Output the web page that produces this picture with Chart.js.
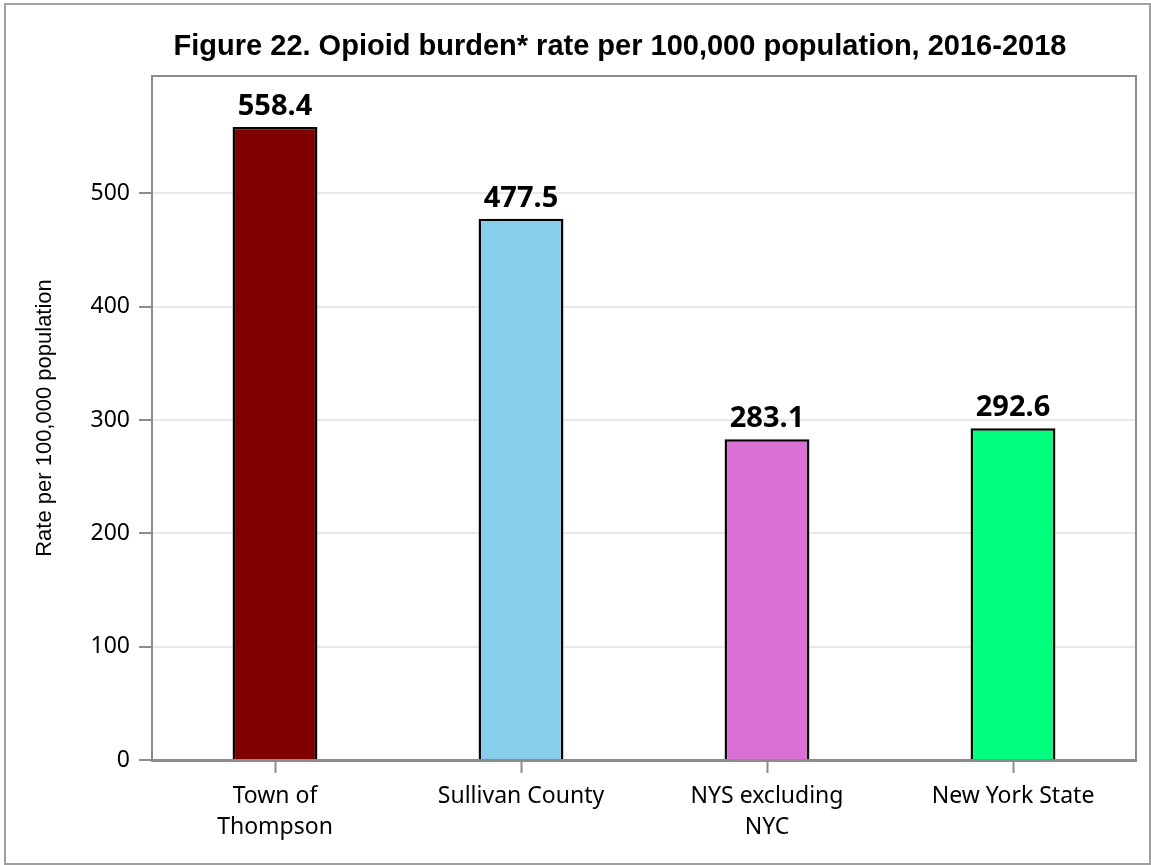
<!DOCTYPE html>
<html lang="en">
  <head>
    <meta charset="UTF-8" />
    <title>Opioid burden</title>
    <script src="https://cdn.jsdelivr.net/npm/chart.js"></script>
    <style>
      body {
        margin: 0;
        background: white;
      }
      canvas {
        display: block;
      }
    </style>
  </head>
  <body>
    <canvas id="opioidChart" width="1151" height="865"></canvas>
    <script>
      const chartTitle = "Figure 22. Opioid burden* rate per 100,000 population, 2016-2018";
      const categories = [["Town of", "Thompson"], "Sullivan County", ["NYS excluding", "NYC"], "New York State"];
      const rates = [558.4, 477.5, 283.1, 292.6];
      const barColors = ["#800000", "#87CEEB", "#DA70D6", "#00FF7F"];
      const yTicks = [0, 100, 200, 300, 400, 500];

      const axisGray = "#8c8c8c";

      // frame, title, top/right plot border
      const decorations = {
        id: "decorations",
        beforeDraw(chart) {
          const ctx = chart.ctx;
          ctx.save();
          ctx.strokeStyle = "#a0a0a0";
          ctx.lineWidth = 2;
          ctx.strokeRect(5, 4, 1145, 860);
          ctx.fillStyle = "#000";
          ctx.font = "bold 29px 'Liberation Sans', Arial, sans-serif";
          ctx.textAlign = "center";
          ctx.textBaseline = "alphabetic";
          ctx.fillText(chartTitle, 620, 55);
          ctx.restore();
        },
        afterDraw(chart) {
          const a = chart.chartArea;
          const ctx = chart.ctx;
          ctx.save();
          ctx.strokeStyle = axisGray;
          ctx.lineWidth = 2;
          ctx.beginPath();
          ctx.moveTo(a.left, a.top);
          ctx.lineTo(a.right, a.top);
          ctx.lineTo(a.right, a.bottom);
          ctx.stroke();
          ctx.restore();
        },
      };

      const valueLabels = {
        id: "valueLabels",
        afterDatasetsDraw(chart) {
          const ctx = chart.ctx;
          const meta = chart.getDatasetMeta(0);
          ctx.save();
          ctx.fillStyle = "#000";
          ctx.font = "bold 29px 'Noto Sans', sans-serif";
          ctx.textAlign = "center";
          ctx.textBaseline = "alphabetic";
          meta.data.forEach((bar, i) => {
            ctx.fillText(rates[i].toFixed(1), bar.x, bar.y - 12);
          });
          ctx.restore();
        },
      };

      new Chart(document.getElementById("opioidChart"), {
        type: "bar",
        data: {
          labels: categories,
          datasets: [
            {
              data: rates,
              backgroundColor: barColors,
              borderColor: "#000",
              borderWidth: 2.5,
              borderSkipped: "bottom",
              categoryPercentage: 1,
              barPercentage: 0.345,
            },
          ],
        },
        options: {
          responsive: false,
          animation: false,
          layout: { padding: { left: 0, top: 76, right: 15, bottom: 0 } },
          plugins: {
            legend: { display: false },
            tooltip: { enabled: false },
          },
          scales: {
            x: {
              afterFit(scale) {
                scale.height = 105;
              },
              grid: {
                offset: false,
                drawOnChartArea: false,
                tickLength: 13,
                tickColor: axisGray,
                tickWidth: 2,
              },
              border: { color: axisGray, width: 3 },
              ticks: {
                color: "#000",
                padding: 8,
                font: { family: "'Noto Sans', sans-serif", size: 23, lineHeight: 1.35 },
              },
            },
            y: {
              min: 0,
              max: 603.5,
              afterFit(scale) {
                scale.width = 152;
              },
              afterBuildTicks(scale) {
                scale.ticks = yTicks.map((v) => ({ value: v }));
              },
              grid: {
                color: "#e8e8e8",
                lineWidth: 2,
                tickLength: 13,
                tickColor: axisGray,
                tickWidth: 2,
              },
              border: { color: axisGray, width: 2 },
              ticks: {
                color: "#000",
                padding: 9,
                font: { family: "'Noto Sans', sans-serif", size: 23 },
              },
              title: {
                display: true,
                text: "Rate per 100,000 population",
                color: "#000",
                padding: { top: 32 },
                font: { family: "'Liberation Sans', Arial, sans-serif", size: 22 },
              },
            },
          },
        },
        plugins: [decorations, valueLabels],
      });
    </script>
  </body>
</html>
